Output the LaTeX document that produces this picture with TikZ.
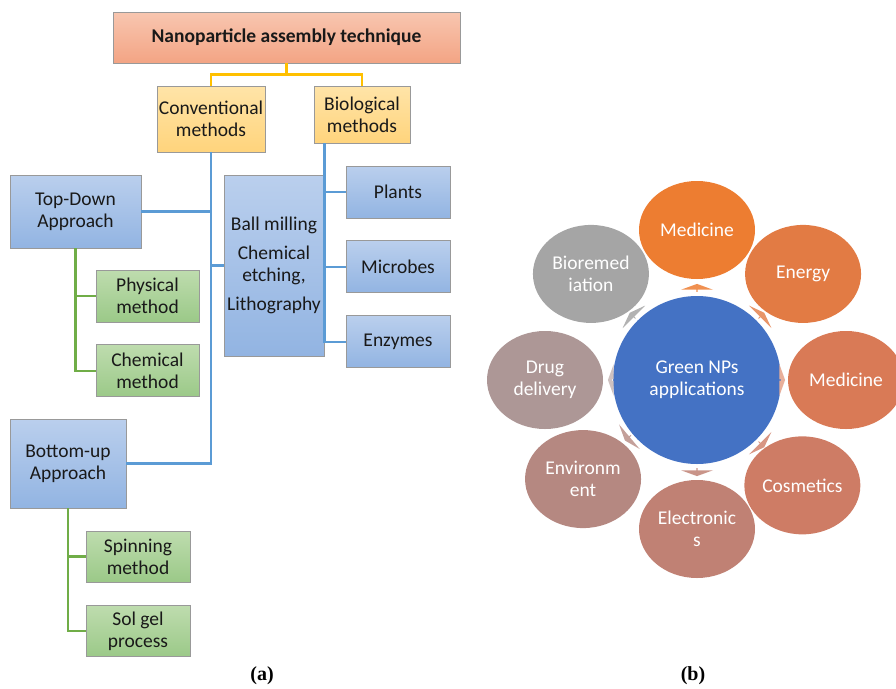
\documentclass[tikz,border=0pt]{standalone}
\usepackage{fontspec}
\setmainfont{Carlito}
\newfontfamily\capfont{Liberation Serif}
\usetikzlibrary{
    positioning,
    shapes.geometric,
    shapes.arrows,
    calc,
}

\definecolor{titletop}{RGB}{248,198,176}
\definecolor{titlebot}{RGB}{243,164,132}
\definecolor{yeltop}{RGB}{255,228,168}
\definecolor{yelbot}{RGB}{255,212,124}
\definecolor{bluetop}{RGB}{186,207,237}
\definecolor{bluebot}{RGB}{146,180,226}
\definecolor{greentop}{RGB}{190,220,174}
\definecolor{greenbot}{RGB}{155,201,136}
\definecolor{yline}{RGB}{255,192,0}
\definecolor{bline}{RGB}{91,155,213}
\definecolor{gline}{RGB}{112,173,71}
\definecolor{npblue}{RGB}{68,114,196}
\definecolor{appA}{RGB}{237,125,49}
\definecolor{appB}{RGB}{226,123,68}
\definecolor{appC}{RGB}{217,122,86}
\definecolor{appD}{RGB}{206,124,101}
\definecolor{appE}{RGB}{192,129,116}
\definecolor{appF}{RGB}{181,136,129}
\definecolor{appG}{RGB}{173,151,150}
\definecolor{appH}{RGB}{165,165,165}

\begin{document}
\begin{tikzpicture}[
    x=1pt, y=-1pt,
    node distance=22pt and 22pt,
    box/.style={draw=black!40, line width=0.8pt, align=center, text=black!90,
                inner sep=1pt, font=\fontsize{19.5}{22}\selectfont},
    tech/.style={box, top color=titletop, bottom color=titlebot, minimum width=347pt,
                minimum height=51pt, font=\fontsize{19.5}{22}\selectfont\bfseries},
    method/.style={box, top color=yeltop, bottom color=yelbot},
    approach/.style={box, top color=bluetop, bottom color=bluebot},
    bioleaf/.style={approach, minimum width=104pt, minimum height=52pt},
    leaf/.style={box, top color=greentop, bottom color=greenbot, minimum width=104pt, minimum height=52pt},
    yconn/.style={draw=yline, line width=2.2pt},
    bconn/.style={draw=bline, line width=2.2pt},
    gconn/.style={draw=gline, line width=2.2pt},
    caption/.style={font=\capfont\bfseries\fontsize{20}{24}\selectfont},
]

\useasboundingbox (0,0) rectangle (896,688);

% Title
\node[tech] (Tech) at (286.5,37.5) {Nanoparticle assembly technique};

% Methods
\node[method, minimum width=108pt, minimum height=66pt] (Conv) at (211,119) {Conventional\\methods};
\node[method, minimum width=96pt, minimum height=57pt] (Bio) at (362,114.5) {Biological\\methods};

% Approaches
\node[approach, minimum width=131pt, minimum height=73pt] (TopDown) at (75.5,211.5) {Top-Down\\Approach};
\node[approach, minimum width=116pt, minimum height=89pt] (BottomUp) at (68,463.5) {Bottom-up\\Approach};
\node[approach, minimum width=100pt, minimum height=181pt] (Ball) at (274,265.5) {Ball milling\\[7pt]Chemical\\etching,\\[7pt]Lithography};

% Biological sources
\node[bioleaf] (Plants) at (398,192) {Plants};
\node[bioleaf] (Microbes) [below=of Plants] {Microbes};
\node[bioleaf] (Enzymes) [below=of Microbes] {Enzymes};

% Top-down methods
\node[leaf, minimum width=103pt] (PhysM) at (147.5,296) {Physical\\method};
\node[leaf, minimum width=103pt] (ChemM) [below=of PhysM] {Chemical\\method};

% Bottom-up methods
\node[leaf, minimum height=51pt] (SpinM) at (138,556.5) {Spinning\\method};
\node[leaf, minimum height=51pt] (SolGel) [below=23pt of SpinM] {Sol gel\\process};

% Lines
\draw[yconn] (Tech.south) -- ++(0,11) -| (Conv.north);
\draw[yconn] (Tech.south) -- ++(0,11) -| (Bio.north);
\draw[bconn] (Conv.south) |- (BottomUp.east);
\draw[bconn] (TopDown.east) -- (TopDown.east -| Conv.south);
\draw[bconn] (Ball.west) -- (Ball.west -| Conv.south);
\draw[bconn] (Bio.south -| Ball.east) |- (Enzymes.west);
\draw[bconn] (Plants.west -| Ball.east) -- (Plants.west);
\draw[bconn] (Microbes.west -| Ball.east) -- (Microbes.west);
\draw[gconn] (TopDown.south) |- (ChemM.west);
\draw[gconn] (TopDown.south |- PhysM.west) -- (PhysM.west);
\draw[gconn] (BottomUp.south) |- (SolGel.west);
\draw[gconn] (BottomUp.south |- SpinM.west) -- (SpinM.west);

% Applications
\begin{scope}[shift={(697,380)}, y=1pt,
    app/.style={ellipse, minimum width=116pt, minimum height=98pt, inner sep=0pt,
                text=white, align=center, font=\fontsize{19.5}{22}\selectfont},
    sprout/.style={single arrow, minimum height=8pt, minimum width=32pt, inner sep=0pt,
                single arrow head extend=6pt, single arrow tip angle=140},
]
\node[circle, fill=npblue, minimum size=168pt, inner sep=0pt, text=white, align=center,
      font=\fontsize{19.5}{22}\selectfont] (Green) at (0,0) {Green NPs\\applications};

\node[app, fill=appA] (MedTop) at (90:150) {Medicine};
\node[app, fill=appB] (Energy) at (45:150) {Energy};
\node[app, fill=appC] (MedRight) at (0:149) {Medicine};
\node[app, fill=appD] (Cosmetics) at (-45:149) {Cosmetics};
\node[app, fill=appE] (Electronics) at (-90:149) {Electronic\\s};
\node[app, fill=appF] (Environment) at (221:151) {Environm\\ent};
\node[app, fill=appG] (Drug) at (180:152) {Drug\\delivery};
\node[app, fill=appH] (Bioremed) at (135:150) {Bioremed\\iation};

% small arrows
\node[sprout, fill=appA!85, rotate=90] (ArMedTop) at (90:92) {};
\node[sprout, fill=appB!80, rotate=45] (ArEnergy) at (45:91) {};
\node[sprout, fill=appC!60, rotate=0, minimum height=4pt] (ArMedRight) at (0:86) {};
\node[sprout, fill=appD!80, rotate=-45] (ArCosmetics) at (-45:91) {};
\node[sprout, fill=appE!85, rotate=-90] (ArElectronics) at (-90:92) {};
\node[sprout, fill=appF!80, rotate=220] (ArEnvironment) at (220:90) {};
\node[sprout, fill=appG!60, rotate=180, minimum height=4pt] (ArDrug) at (180:87) {};
\node[sprout, fill=appH!85, rotate=135] (ArBioremed) at (135:91) {};
\end{scope}

% Captions
\node[caption] (CapA) at (262,676) {(a)};
\node[caption] (CapB) at (693,676) {(b)};

\end{tikzpicture}
\end{document}
